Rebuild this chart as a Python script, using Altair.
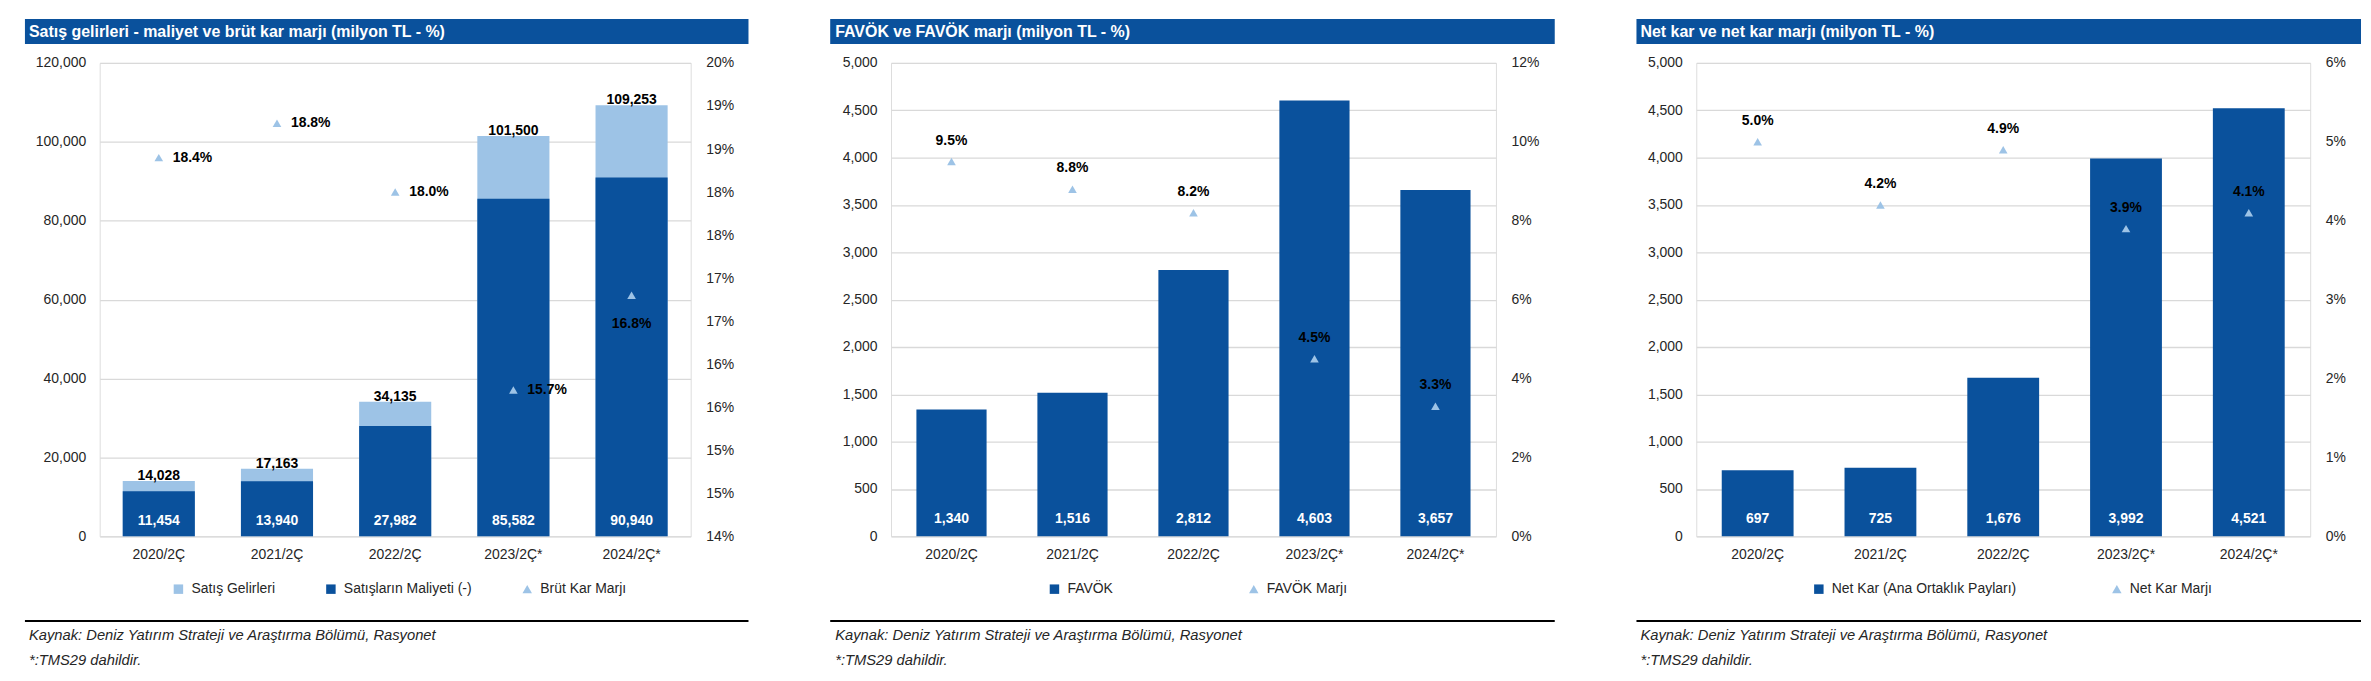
import altair as alt
import pandas as pd

# ---------------- data ----------------
categories = ["2020/2Ç", "2021/2Ç", "2022/2Ç", "2023/2Ç*", "2024/2Ç*"]

sales_revenue = [14028, 17163, 34135, 101500, 109253]
cost_of_sales = [11454, 13940, 27982, 85582, 90940]
gross_margin = [0.184, 0.188, 0.180, 0.157, 0.168]

ebitda = [1340, 1516, 2812, 4603, 3657]
ebitda_margin = [0.095, 0.088, 0.082, 0.045, 0.033]

net_profit = [697, 725, 1676, 3992, 4521]
net_margin = [0.050, 0.042, 0.049, 0.039, 0.041]

p1_left_ticks = [0, 20000, 40000, 60000, 80000, 100000, 120000]
p1_right_ticks = [0.14, 0.145, 0.15, 0.155, 0.16, 0.165, 0.17, 0.175, 0.18, 0.185, 0.19, 0.195]
p23_left_ticks = [0, 500, 1000, 1500, 2000, 2500, 3000, 3500, 4000, 4500, 5000]
p2_right_ticks = [0, 0.02, 0.04, 0.06, 0.08, 0.10, 0.12]
p3_right_ticks = [0, 0.01, 0.02, 0.03, 0.04, 0.05, 0.06]

titles = [
    "Satış gelirleri - maliyet ve brüt kar marjı (milyon TL - %)",
    "FAVÖK ve FAVÖK marjı (milyon TL - %)",
    "Net kar ve net kar marjı (milyon TL - %)",
]
p1_series = ["Satış Gelirleri", "Satışların Maliyeti (-)", "Brüt Kar Marjı"]
p2_series = ["FAVÖK", "FAVÖK Marjı"]
p3_series = ["Net Kar (Ana Ortaklık Payları)", "Net Kar Marjı"]
source_text = "Kaynak: Deniz Yatırım Strateji ve Araştırma Bölümü, Rasyonet"
note_text = "*:TMS29 dahildir."

# ---------------- style ----------------
DARK = "#0A519C"
LIGHT = "#9DC3E6"
GRID = "#D9D9D9"
TEXT = "#262626"
FONT = "Liberation Sans Narrow, Arial Narrow, Liberation Sans, sans-serif"
FS = 14
PLOT_H = 475

one_row = pd.DataFrame({"k": [0]})


def frame(values, series):
    return pd.DataFrame({"cat": categories, "series": series, "value": values})


def x_enc(pad):
    return alt.X(
        "cat:N", sort=categories,
        scale=alt.Scale(paddingInner=pad, paddingOuter=pad / 2),
        axis=alt.Axis(title=None, labelAngle=0, domain=False, ticks=False, labelPadding=11,
                      labelFontSize=FS, labelColor=TEXT, labelFont=FONT),
    )


def y_left(field, domain, ticks):
    return alt.Y(
        f"{field}:Q",
        scale=alt.Scale(domain=domain, nice=False, zero=False),
        axis=alt.Axis(title=None, orient="left", values=ticks, format=",.0f", grid=True,
                      gridColor=GRID, gridWidth=1.3, domain=False, ticks=False,
                      labelPadding=14, labelFontSize=FS, labelColor=TEXT, labelFont=FONT),
    )


def y_right(domain, ticks, label_expr):
    return alt.Y(
        "value:Q",
        scale=alt.Scale(domain=domain, nice=False, zero=False),
        axis=alt.Axis(title=None, orient="right", values=ticks, labelExpr=label_expr,
                      grid=False, domain=False, ticks=False, labelPadding=15,
                      labelFontSize=FS, labelColor=TEXT, labelFont=FONT),
    )


def legend(x, pad, n):
    return alt.Legend(title=None, orient="none", legendX=x, legendY=521, direction="horizontal",
                      columns=n, columnPadding=pad, labelFontSize=FS, labelFont=FONT,
                      labelColor=TEXT, symbolSize=90, labelOffset=6, padding=0, labelLimit=400,
                      symbolStrokeWidth=0, rowPadding=0)


def color_shape(names, colors, shapes, leg):
    c = alt.Color("series:N", scale=alt.Scale(domain=names, range=colors), legend=leg)
    s = alt.Shape("series:N", scale=alt.Scale(domain=names, range=shapes), legend=leg)
    return c, s


def decorations(w, left, right, title, text_x):
    base = alt.Chart(one_row)
    bar = base.mark_rect(color=DARK).encode(
        x=alt.value(left), x2=alt.value(w + right), y=alt.value(-44), y2=alt.value(-19))
    ttl = base.mark_text(text=title, align="left", baseline="middle", color="white", font=FONT,
                         fontSize=16, fontWeight="bold").encode(x=alt.value(text_x), y=alt.value(-31))
    rule = base.mark_rule(color="black", strokeWidth=2).encode(
        x=alt.value(left), x2=alt.value(w + right), y=alt.value(560))
    src = base.mark_text(text=source_text, align="left", baseline="middle", color=TEXT, font=FONT,
                         fontSize=14.8, fontStyle="italic").encode(x=alt.value(text_x), y=alt.value(575))
    note = base.mark_text(text=note_text, align="left", baseline="middle", color=TEXT, font=FONT,
                          fontSize=14.8, fontStyle="italic").encode(x=alt.value(text_x), y=alt.value(600))
    return [bar, ttl, rule, src, note]


label_style = dict(font=FONT, fontSize=FS, fontWeight="bold")
TRI = 75

# ---------------- panel 1 ----------------
W1 = 593
x1 = x_enc(0.39)
c1, s1 = color_shape(p1_series, [LIGHT, DARK, LIGHT], ["square", "square", "triangle-up"],
                     legend(72, 48, 3))
rev_df = frame(sales_revenue, p1_series[0])
cost_df = frame(cost_of_sales, p1_series[1])
gm_df = frame(gross_margin, p1_series[2])
dom1 = [0, 120000]

rev_bars = alt.Chart(rev_df).mark_bar().encode(x=x1, y=y_left("value", dom1, p1_left_ticks), color=c1)
cost_bars = alt.Chart(cost_df).mark_bar().encode(x=x1, y=y_left("value", dom1, p1_left_ticks), color=c1)
rev_lbl = alt.Chart(rev_df).mark_text(baseline="alphabetic", dy=-1, color="black", **label_style).encode(
    x=x1, y=y_left("value", dom1, p1_left_ticks), text=alt.Text("value:Q", format=","))
cost_lbl = alt.Chart(cost_df).transform_calculate(base="0").mark_text(
    baseline="middle", dy=-15, color="white", **label_style).encode(
    x=x1, y=y_left("base", dom1, p1_left_ticks), text=alt.Text("value:Q", format=","))
left1 = alt.layer(rev_bars, cost_bars, rev_lbl, cost_lbl)

yr1 = y_right([0.14, 0.195], p1_right_ticks, "floor((round(datum.value*1000)+5)/10) + '%'")
gm_pts = alt.Chart(gm_df).mark_point(filled=True, size=TRI, opacity=1).encode(x=x1, y=yr1, color=c1, shape=s1)
gm_lbl_side = alt.Chart(gm_df).transform_filter(
    alt.datum.cat != categories[-1]).mark_text(align="left", baseline="middle", dx=14, color="black",
                                               **label_style).encode(
    x=x1, y=yr1, text=alt.Text("value:Q", format=".1%"))
gm_lbl_below = alt.Chart(gm_df).transform_filter(
    alt.datum.cat == categories[-1]).mark_text(align="center", baseline="middle", dy=29, color="black",
                                               **label_style).encode(
    x=x1, y=yr1, text=alt.Text("value:Q", format=".1%"))
right1 = alt.layer(gm_pts, gm_lbl_side, gm_lbl_below)

panel1 = alt.layer(left1, right1, *decorations(W1, -75, 58, titles[0], -71)).resolve_scale(
    y="independent").properties(width=W1, height=PLOT_H)


# ---------------- panels 2 & 3 ----------------
def simple_panel(w, bars, margins, names, right_dom, right_ticks, leg_x, leg_pad,
                 left_ext, right_ext, title, text_x, pad):
    xe = x_enc(pad)
    c, s = color_shape(names, [DARK, LIGHT], ["square", "triangle-up"], legend(leg_x, leg_pad, 2))
    bdf = frame(bars, names[0])
    mdf = frame(margins, names[1])
    dom = [0, 5000]
    b = alt.Chart(bdf).mark_bar().encode(x=xe, y=y_left("value", dom, p23_left_ticks), color=c)
    bl = alt.Chart(bdf).transform_calculate(base="0").mark_text(
        baseline="middle", dy=-17, color="white", **label_style).encode(
        x=xe, y=y_left("base", dom, p23_left_ticks), text=alt.Text("value:Q", format=","))
    left = alt.layer(b, bl)
    yr = y_right(right_dom, right_ticks, "format(datum.value, '.0%')")
    pts = alt.Chart(mdf).mark_point(filled=True, size=TRI, opacity=1).encode(x=xe, y=yr, color=c, shape=s)
    pl = alt.Chart(mdf).mark_text(align="center", baseline="middle", dy=-21, color="black",
                                  **label_style).encode(x=xe, y=yr, text=alt.Text("value:Q", format=".1%"))
    right = alt.layer(pts, pl)
    return alt.layer(left, right, *decorations(w, left_ext, right_ext, title, text_x)).resolve_scale(
        y="independent").properties(width=w, height=PLOT_H)


panel2 = simple_panel(607, ebitda, ebitda_margin, p2_series, [0, 0.12], p2_right_ticks,
                      157, 134, -61, 59, titles[1], -56, 0.42)
panel3 = simple_panel(616, net_profit, net_margin, p3_series, [0, 0.06], p3_right_ticks,
                      116, 93, -60, 51, titles[2], -56, 0.415)

chart = alt.hconcat(panel1, panel2, panel3, spacing=78).resolve_scale(
    color="independent", shape="independent", x="independent").resolve_legend(
    color="independent", shape="independent").properties(
    padding={"left": 15, "top": 9, "right": 0, "bottom": 5}
).configure_view(stroke=None).configure(background="white")

chart.save("out.html", embed_options={"renderer": "svg", "actions": False})
